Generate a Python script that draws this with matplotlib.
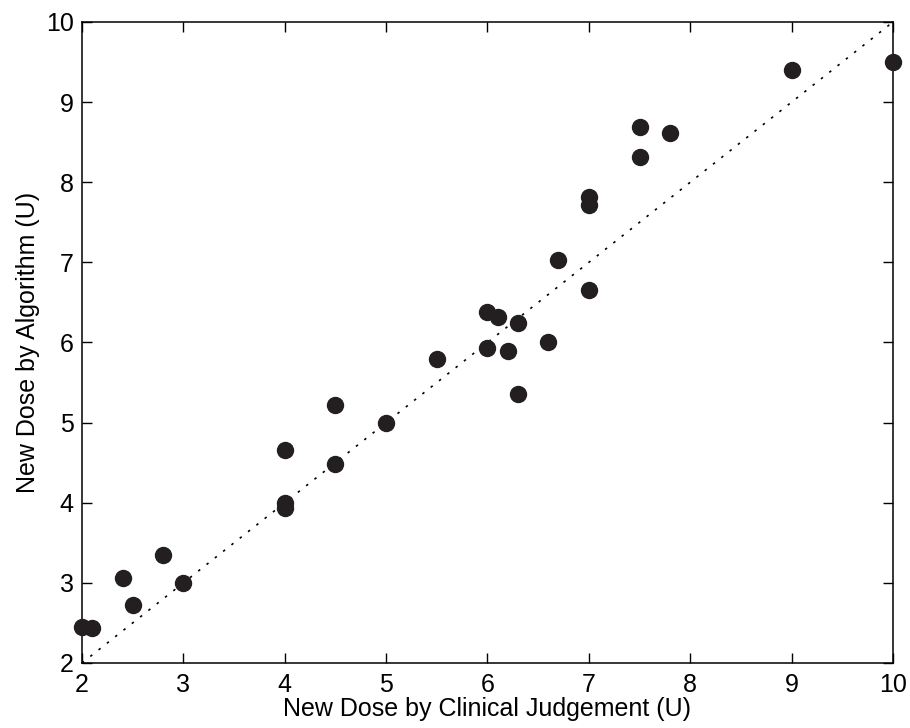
import matplotlib
matplotlib.use("Agg")
import matplotlib.pyplot as plt

clinical = [2.0, 2.1, 2.4, 2.5, 2.8, 3.0, 4.0, 4.0, 4.0, 4.5, 4.5, 5.0, 5.5,
            6.0, 6.0, 6.1, 6.2, 6.3, 6.3, 6.6, 6.7, 7.0, 7.0, 7.0, 7.5, 7.5,
            7.8, 9.0, 10.0]
algorithm = [2.45, 2.44, 3.06, 2.72, 3.35, 3.0, 4.66, 4.0, 3.94, 5.22, 4.48,
             5.0, 5.8, 6.38, 5.93, 6.32, 5.9, 6.24, 5.36, 6.01, 7.03, 7.81,
             7.72, 6.66, 8.69, 8.32, 8.62, 9.4, 9.5]
identity = [2, 10]

plt.rcParams['font.family'] = ['Liberation Sans', 'DejaVu Sans']

fig = plt.figure(figsize=(9.1, 7.28), dpi=100)
ax = fig.add_axes([0.0901, 0.0893, 0.8912, 0.8805])

# line of identity
ax.plot(identity, identity, color='black', linestyle=(0, (1.5, 4.85)), linewidth=1.2)
ax.plot(clinical, algorithm, 'o', color='#231f20', markersize=11.5,
        clip_on=False, zorder=3)

ax.set_xlim(2, 10)
ax.set_ylim(2, 10)
ax.set_xticks(range(2, 11))
ax.set_yticks(range(2, 11))
ax.tick_params(direction='in', length=7, width=1, top=True, right=True,
               labelsize=18)
ax.tick_params(axis='x', pad=7)
ax.tick_params(axis='y', pad=6)
for s in ax.spines.values():
    s.set_linewidth(1.1)

ax.set_xlabel('New Dose by Clinical Judgement (U)', fontsize=18, labelpad=0)
ax.set_ylabel('New Dose by Algorithm (U)', fontsize=18, labelpad=4)

fig.savefig('out.png', dpi=100)
